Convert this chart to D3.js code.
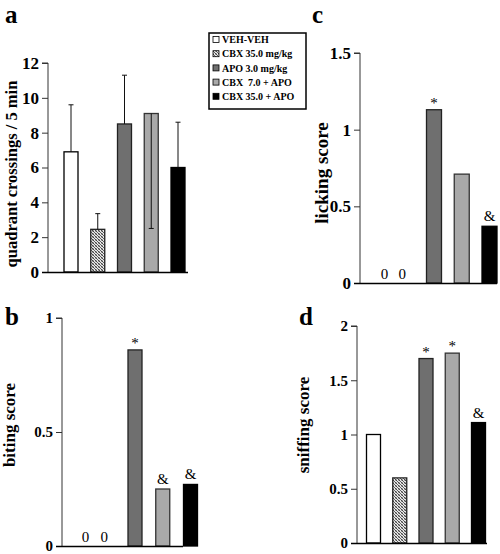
<!DOCTYPE html>
<html><head><meta charset="utf-8">
<script src="https://cdn.jsdelivr.net/npm/d3@7"></script>
<style>
html,body{margin:0;padding:0;background:#fff;}
svg{display:block;font-family:"Liberation Serif","Times New Roman",serif;}
</style></head>
<body>
<svg id="chart" width="500" height="554"></svg>
<script>
// ---------- data ----------
const groups = ["VEH-VEH", "CBX 35.0 mg/kg", "APO 3.0 mg/kg", "CBX  7.0 + APO", "CBX 35.0 + APO"];
const crossings = [6.9, 2.45, 8.5, 9.1, 6.0];
const crossingsErr = [2.7, 0.9, 2.8, 6.6, 2.6];
const crossingsErrDir = ["up", "up", "up", "down", "up"];
const biting = [0, 0, 0.86, 0.25, 0.27];
const bitingMarks = ["0", "0", "*", "&", "&"];
const licking = [0, 0, 1.13, 0.71, 0.37];
const lickingMarks = ["0", "0", "*", "", "&"];
const sniffing = [1.0, 0.6, 1.7, 1.75, 1.11];
const sniffingMarks = ["", "", "*", "*", "&"];
const ticksA = [0, 2, 4, 6, 8, 10, 12];
const ticksB = [0, 0.5, 1];
const ticksC = [0, 0.5, 1, 1.5];
const ticksD = [0, 0.5, 1, 1.5, 2];

// ---------- drawing ----------
const svg = d3.select("#chart");
const defs = svg.append("defs");
const hatch = defs.append("pattern").attr("id", "hatch").attr("patternUnits", "userSpaceOnUse")
  .attr("width", 3).attr("height", 3);
hatch.append("rect").attr("width", 3).attr("height", 3).attr("fill", "#e8e8e8");
hatch.append("path").attr("d", "M0,0 L3,3 M-1,2 L1,4 M2,-1 L4,1").attr("stroke", "#444").attr("stroke-width", 1);
hatch.append("path").attr("d", "M0,3 L3,0").attr("stroke", "#777").attr("stroke-width", 0.6);

const fills = ["#ffffff", "url(#hatch)", "#6f6f6f", "#a9a9a9", "#000000"];
const strokes = ["#000", "#222", "#222", "#333", "#000"];

function panel(cfg) {
  const g = svg.append("g");
  const y = d3.scaleLinear().domain([0, cfg.max]).range([cfg.yBot, cfg.yTop]);
  const xc = d3.scalePoint().domain(groups).range([cfg.c0, cfg.c1]);
  // y axis
  const ax = g.append("g").attr("transform", `translate(${cfg.x0},0)`)
    .call(d3.axisLeft(y).tickValues(cfg.ticks).tickFormat(d3.format("~g")).tickSize(6).tickPadding(3));
  ax.select(".domain").attr("stroke", "#333").attr("stroke-width", 1).attr("d", `M-6,${cfg.yTop}H0V${cfg.yBot}`);
  ax.selectAll(".tick line").attr("stroke", "#333");
  ax.selectAll(".tick text").attr("font-family", "Liberation Serif").attr("font-weight", "bold")
    .attr("font-size", cfg.tickFont).attr("fill", "#000");
  // bars
  g.selectAll("rect.bar").data(cfg.values).enter().append("rect")
    .attr("x", (d, i) => xc(groups[i]) - cfg.bw / 2)
    .attr("y", d => y(d))
    .attr("width", cfg.bw)
    .attr("height", d => y(0) - y(d))
    .attr("fill", (d, i) => fills[i])
    .attr("stroke", (d, i) => d > 0 ? strokes[i] : "none")
    .attr("stroke-width", 1.3);
  // x baseline
  g.append("line").attr("x1", cfg.x0 - 6).attr("x2", cfg.x1).attr("y1", y(0) + 0.5).attr("y2", y(0) + 0.5)
    .attr("stroke", "#000").attr("stroke-width", 1.6);
  // error bars
  if (cfg.err) {
    cfg.err.forEach((e, i) => {
      const cx = xc(groups[i]);
      const v = cfg.values[i];
      const end = cfg.errDir[i] === "up" ? v + e : v - e;
      g.append("line").attr("x1", cx).attr("x2", cx).attr("y1", y(v)).attr("y2", y(end))
        .attr("stroke", "#111").attr("stroke-width", 1);
      g.append("line").attr("x1", cx - 2.5).attr("x2", cx + 2.5).attr("y1", y(end)).attr("y2", y(end))
        .attr("stroke", "#111").attr("stroke-width", 1);
    });
  }
  // marks
  if (cfg.marks) {
    cfg.marks.forEach((m, i) => {
      if (!m) return;
      const v = cfg.values[i];
      let cx = xc(groups[i]);
      if (m === "0") cx += (i === 0 ? cfg.zOff[0] : cfg.zOff[1]);
      g.append("text").attr("x", cx).attr("y", m === "0" ? y(0) - 4 : (m === "*" ? y(v) - 2 : y(v) - 5))
        .attr("text-anchor", "middle").attr("font-family", "Liberation Serif")
        .attr("fill", "#000").attr("font-size", 15).text(m);
    });
  }
  // y title
  g.append("text").attr("transform", `translate(${cfg.titleX},${cfg.titleY}) rotate(-90)`)
    .attr("text-anchor", "middle").attr("font-family", "Liberation Serif").attr("font-weight", "bold")
    .attr("fill", "#000").attr("font-size", cfg.titleFont).text(cfg.title);
  // panel letter
  svg.append("text").attr("x", cfg.letterX).attr("y", cfg.letterY).attr("font-family", "Liberation Serif")
    .attr("fill", "#000").attr("font-weight", "bold").attr("font-size", 25).text(cfg.letter);
}

panel({letter: "a", letterX: 5, letterY: 23, values: crossings, err: crossingsErr, errDir: crossingsErrDir,
  max: 12, ticks: ticksA, x0: 48, x1: 188, yTop: 63, yBot: 272, c0: 71, c1: 178, bw: 14, tickFont: 17,
  title: "quadrant crossings / 5 min", titleX: 17, titleY: 174, titleFont: 16.5});
panel({letter: "b", letterX: 5, letterY: 325, values: biting, marks: bitingMarks, zOff: [6, -3],
  max: 1, ticks: ticksB, x0: 62, x1: 183, yTop: 318, yBot: 546, c0: 79.5, c1: 190.5, bw: 14, tickFont: 15,
  title: "biting score", titleX: 15, titleY: 425, titleFont: 17});
panel({letter: "c", letterX: 312, letterY: 23, values: licking, marks: lickingMarks, zOff: [6, -4],
  max: 1.5, ticks: ticksC, x0: 360, x1: 497, yTop: 53, yBot: 283, c0: 378.5, c1: 489.5, bw: 15, tickFont: 17,
  title: "licking score", titleX: 328, titleY: 173, titleFont: 19});
panel({letter: "d", letterX: 299, letterY: 325, values: sniffing, marks: sniffingMarks, zOff: [0, 0],
  max: 2, ticks: ticksD, x0: 357, x1: 487, yTop: 326, yBot: 543, c0: 373.5, c1: 478.5, bw: 14, tickFont: 15,
  title: "sniffing score", titleX: 309, titleY: 425, titleFont: 17});

// legend
const lg = svg.append("g");
lg.append("rect").attr("x", 209).attr("y", 33).attr("width", 97).attr("height", 76)
  .attr("fill", "#fff").attr("stroke", "#000").attr("stroke-width", 1.5);
groups.forEach((name, i) => {
  const yy = 40 + i * 14.2;
  lg.append("rect").attr("x", 213).attr("y", yy - 3.5).attr("width", 6).attr("height", 6)
    .attr("fill", fills[i]).attr("stroke", "#000").attr("stroke-width", 0.8);
  lg.append("text").attr("x", 222).attr("y", yy + 3.2).attr("font-family", "Liberation Serif")
    .attr("fill", "#000").attr("font-weight", "bold").attr("font-size", 10).style("white-space", "pre").text(name);
});
</script>
</body></html>
